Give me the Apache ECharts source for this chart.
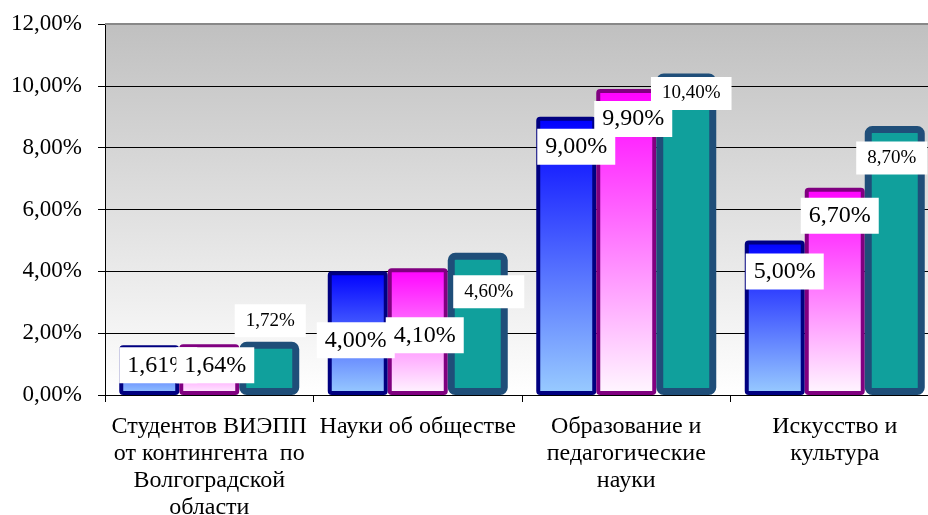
<!DOCTYPE html>
<html>
<head>
<meta charset="utf-8">
<script src="https://cdn.jsdelivr.net/npm/echarts@6/dist/echarts.min.js"></script>
<style>
html,body{margin:0;padding:0;background:#fff;}
#chart{width:928px;height:515px;}
</style>
</head>
<body>
<div id="chart"></div>
<script>
const categories = [
  'Студентов ВИЭПП\nот контингента  по\nВолгоградской\nобласти',
  'Науки об обществе',
  'Образование и\nпедагогические\nнауки',
  'Искусство и\nкультура'
];
const seriesA = [1.61, 4.00, 9.00, 5.00];
const seriesB = [1.64, 4.10, 9.90, 6.70];
const seriesC = [1.72, 4.60, 10.40, 8.70];
const yTicks = { min: 0, max: 12, interval: 2 };

// label offsets (style only): [dx, dy] from bar top-center to label box center
const offA = [[9, 20], [-2, 69], [10, 30], [10, 31]];
const offB = [[6, 21], [7, 67], [7, 30], [5, 28]];
const offC = [[1, -21], [11, 39], [5, 20], [-3, 32]];

const fmt = v => v.toFixed(2).replace('.', ',') + '%';
const serif = '"Liberation Serif", "Times New Roman", serif';

function mkData(vals, offs) {
  return vals.map((v, i) => ({
    value: v,
    label: { offset: offs[i] }
  }));
}
function labelCfg(fontSize, pad) {
  return {
    show: true,
    position: 'insideTop',
    distance: 0,
    align: 'center',
    verticalAlign: 'middle',
    formatter: p => fmt(p.value),
    fontFamily: serif,
    fontSize: fontSize,
    color: '#000',
    backgroundColor: '#fff',
    padding: pad
  };
}

const chart = echarts.init(document.getElementById('chart'), null, { renderer: 'canvas' });
chart.setOption({
  animation: false,
  backgroundColor: '#fff',
  grid: {
    left: 105, top: 24, width: 834, height: 371,
    outerBoundsMode: 'none',
    containLabel: false,
    show: true,
    borderWidth: 0,
    backgroundColor: new echarts.graphic.LinearGradient(0, 0, 0, 1, [
      { offset: 0, color: '#c0c0c0' },
      { offset: 1, color: '#ffffff' }
    ])
  },
  xAxis: {
    type: 'category',
    data: categories,
    axisLine: { show: true, lineStyle: { color: '#000', width: 1 } },
    axisTick: { show: true, length: 7, lineStyle: { color: '#000' } },
    axisLabel: {
      interval: 0, margin: 18, color: '#000',
      fontFamily: serif, fontSize: 24, lineHeight: 27
    }
  },
  yAxis: {
    type: 'value',
    min: yTicks.min, max: yTicks.max, interval: yTicks.interval,
    axisLine: { show: true, lineStyle: { color: '#000', width: 1 } },
    axisTick: { show: true, length: 7, lineStyle: { color: '#000' } },
    axisLabel: {
      formatter: v => fmt(v), margin: 23, color: '#000',
      fontFamily: serif, fontSize: 23
    },
    splitLine: { show: true, showMaxLine: false, lineStyle: { color: '#000', width: 1 } }
  },
  graphic: [{
    type: 'line', shape: { x1: 105, y1: 24, x2: 928, y2: 24 },
    style: { stroke: '#888', lineWidth: 2 }, z: 1
  }],
  series: [
    {
      type: 'bar', data: mkData(seriesA, offA), barWidth: 60, barGap: '0%',
      itemStyle: {
        color: new echarts.graphic.LinearGradient(0, 0, 0, 1, [
          { offset: 0, color: '#0000ff' },
          { offset: 1, color: '#99ccff' }
        ]),
        borderColor: '#000080', borderWidth: 4, borderRadius: 2
      },
      label: labelCfg(24, [6, 8])
    },
    {
      type: 'bar', data: mkData(seriesB, offB), barWidth: 60, barGap: '0%',
      itemStyle: {
        color: new echarts.graphic.LinearGradient(0, 0, 0, 1, [
          { offset: 0, color: '#ff00ff' },
          { offset: 1, color: '#fff8ff' }
        ]),
        borderColor: '#800080', borderWidth: 4, borderRadius: 2
      },
      label: labelCfg(24, [6, 8])
    },
    {
      type: 'bar', data: mkData(seriesC, offC), barWidth: 60, barGap: '0%',
      itemStyle: {
        color: '#10a09c',
        borderColor: '#1f4e79', borderWidth: 7, borderRadius: 4
      },
      label: labelCfg(19, [7, 11])
    }
  ]
});
</script>
</body>
</html>
